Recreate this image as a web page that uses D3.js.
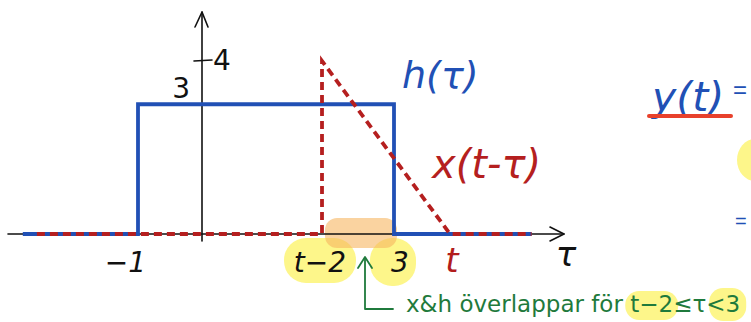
<!DOCTYPE html>
<html>
<head>
<meta charset="utf-8">
<script src="https://cdn.jsdelivr.net/npm/d3@7"></script>
<style>
  html, body { margin: 0; padding: 0; background: #ffffff; }
  svg { display: block; }
  text { font-family: "DejaVu Sans", sans-serif; }
</style>
</head>
<body>
<div id="chart"></div>
<script>
// h(tau): rectangle of height 3 between -1 and 3
const hTau = [[-2.8, 0], [-1, 0], [-1, 3], [3, 3], [3, 0], [5.15, 0]];
// x(t - tau): flipped and shifted triangle, t ~ 3.875
const tVal = 3.875;
const xShift = [[-2.58, 0], [tVal - 2, 0], [tVal - 2, 4], [tVal, 0], [5.15, 0]];

const tauTicks = [
    { v: -1, label: '−1', color: '#111' },
    { v: tVal - 2, label: 't−2', color: '#111' },
    { v: 3, label: '3', color: '#111' },
    { v: tVal, label: 't', color: '#b21d1d' }
];
const yTicks = [4];
const yLabels = [{ v: 3, label: '3' }, { v: 4, label: '4' }];

const W = 751, H = 322;
const BLUE = '#2150b5', RED = '#b51f1f', GREEN = '#1f7a3c';
const YELLOW = '#fdf68a', ORANGE = '#f7b560';

const svg = d3.select('#chart').append('svg')
    .attr('width', W)
    .attr('height', H);

// scales
const x = d3.scaleLinear().domain([-1, 3]).range([138, 394]);
const y = d3.scaleLinear().domain([0, 4]).range([234, 61]);

// highlights under everything
const hl = svg.append('g');
hl.append('rect').attr('x', 284).attr('y', 238).attr('width', 72).attr('height', 45)
    .attr('rx', 22).attr('fill', YELLOW);
hl.append('rect').attr('x', 370).attr('y', 238).attr('width', 46).attr('height', 48)
    .attr('rx', 22).attr('fill', YELLOW);
hl.append('rect').attr('x', x(tVal - 2) + 3).attr('y', 218).attr('width', x(3) - x(tVal - 2)).attr('height', 30)
    .attr('rx', 12).attr('fill', ORANGE).attr('opacity', 0.6);
const hlNote1 = hl.append('rect').attr('rx', 14).attr('fill', YELLOW);
const hlNote2 = hl.append('rect').attr('rx', 14).attr('fill', YELLOW);
hl.append('ellipse').attr('cx', 755).attr('cy', 160).attr('rx', 18).attr('ry', 21)
    .attr('fill', YELLOW);

// axes
const ax = svg.append('g').attr('stroke', '#111').attr('stroke-width', 1.6).attr('fill', 'none')
    .attr('stroke-linecap', 'round').attr('stroke-linejoin', 'round');
ax.append('line').attr('x1', 8).attr('y1', y(0)).attr('x2', 564).attr('y2', y(0));
ax.append('path').attr('d', `M550,${y(0) - 7} L564,${y(0)} L550,${y(0) + 7}`);
ax.append('line').attr('x1', x(0)).attr('y1', 241).attr('x2', x(0)).attr('y2', 12);
ax.append('path').attr('d', `M${x(0) - 7},27 L${x(0)},12 L${x(0) + 6},27`);
yTicks.forEach(v => {
    ax.append('line').attr('x1', x(0) - 8).attr('y1', y(v)).attr('x2', x(0) + 10).attr('y2', y(v) - 1);
});

// h(tau)
const line = d3.line().x(d => x(d[0])).y(d => y(d[1]));
svg.append('path').datum(hTau)
    .attr('d', line)
    .attr('fill', 'none')
    .attr('stroke', BLUE)
    .attr('stroke-width', 3.8)
    .attr('stroke-linejoin', 'miter');

// x(t - tau)
svg.append('path').datum(xShift)
    .attr('d', line)
    .attr('fill', 'none')
    .attr('stroke', RED)
    .attr('stroke-width', 3.8)
    .attr('stroke-dasharray', '8,5');

// tick labels on tau axis
svg.selectAll('.tau-label').data(tauTicks).enter().append('text')
    .attr('class', 'tau-label')
    .attr('x', d => x(d.v))
    .attr('y', 272)
    .attr('text-anchor', d => d.v === -1 ? 'end' : 'middle')
    .attr('dx', d => d.v === -1 ? 8 : (d.v === 3 ? 6 : (d.label === 't' ? 2 : -2)))
    .attr('font-size', d => d.label === 't' ? 34 : 28)
    .attr('font-style', 'italic')
    .attr('fill', d => d.color)
    .text(d => d.label);

// y labels
svg.append('text').attr('x', x(0) - 12).attr('y', y(3) - 6)
    .attr('text-anchor', 'end').attr('font-size', 28).attr('fill', '#111').text(yLabels[0].label);
svg.append('text').attr('x', x(0) + 11).attr('y', y(4) + 9)
    .attr('font-size', 28).attr('fill', '#111').text(yLabels[1].label);

// tau axis name
svg.append('text').attr('x', 566).attr('y', 266).attr('text-anchor', 'middle')
    .attr('font-size', 34).attr('font-style', 'italic').attr('fill', '#111').text('τ');

// function names
svg.append('text').attr('x', 402).attr('y', 88).attr('font-size', 38)
    .attr('fill', BLUE).attr('font-style', 'italic').text('h(τ)');
svg.append('text').attr('x', 432).attr('y', 178).attr('font-size', 40)
    .attr('fill', RED).attr('font-style', 'italic').text('x(t-τ)');

// y(t) = on the right
svg.append('text').attr('x', 652).attr('y', 111).attr('font-size', 41)
    .attr('fill', BLUE).attr('font-style', 'italic').text('y(t)');
svg.append('line').attr('x1', 649).attr('y1', 116).attr('x2', 731).attr('y2', 116)
    .attr('stroke', '#e8412c').attr('stroke-width', 4).attr('stroke-linecap', 'round');
svg.append('text').attr('x', 733).attr('y', 98).attr('font-size', 24)
    .style('font-family', '"Liberation Sans", sans-serif')
    .attr('fill', BLUE).text('=');
svg.append('text').attr('x', 735).attr('y', 228).attr('font-size', 20)
    .style('font-family', '"Liberation Sans", sans-serif')
    .attr('fill', BLUE).text('=');

// green annotation
const gr = svg.append('g').attr('stroke', GREEN).attr('stroke-width', 1.8).attr('fill', 'none')
    .attr('stroke-linecap', 'round').attr('stroke-linejoin', 'round');
gr.append('path').attr('d', 'M393,309 L365,309 L365,258');
gr.append('path').attr('d', 'M358,268 L365,257 L372,268');
const note = svg.append('text').attr('x', 406).attr('y', 312)
    .attr('font-size', 23)
    .attr('fill', GREEN);
note.append('tspan').text('x&h överlappar för ');
const part1 = note.append('tspan').text('t−2');
note.append('tspan').text('≤');
const part2 = note.append('tspan').text('τ<3');

// yellow marks behind the inequality, placed from the rendered text
const b1 = part1.node().getBBox();
const b2 = part2.node().getBBox();
hlNote1.attr('x', b1.x - 5).attr('y', 291).attr('width', b1.width + 10).attr('height', 29);
hlNote2.attr('x', b2.x + b2.width * 0.35).attr('y', 288).attr('width', Math.min(b2.width * 0.65 + 6, W - 2 - (b2.x + b2.width * 0.35))).attr('height', 33);
</script>
</body>
</html>
